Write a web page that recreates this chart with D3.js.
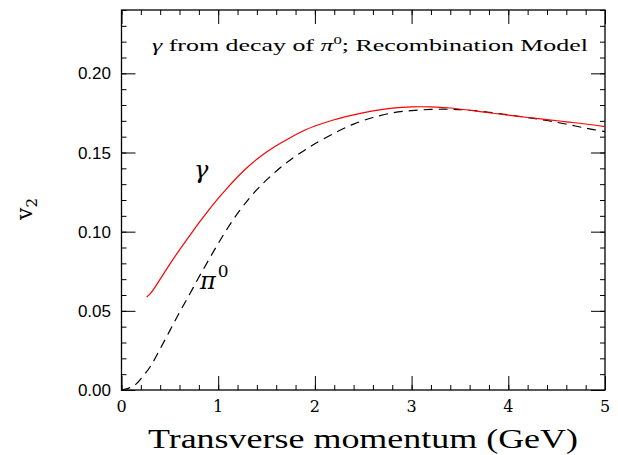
<!DOCTYPE html>
<html><head><meta charset="utf-8">
<script src="https://cdn.jsdelivr.net/npm/d3@7"></script>
<style>body{margin:0;background:#fff;} svg{display:block;}</style>
</head><body>
<svg id="c" width="618" height="455"></svg>
<script>
// Data
const ptGamma = [0.26, 0.30, 0.40, 0.50, 0.60, 0.70, 0.80, 0.90, 1.0, 1.1, 1.2, 1.3, 1.4, 1.5, 1.6, 1.7, 1.8, 1.9, 2.0, 2.2, 2.4, 2.6, 2.8, 3.0, 3.2, 3.4, 3.6, 3.8, 4.0, 4.2, 4.4, 4.6, 4.8, 5.0];
const v2Gamma = [0.0588, 0.061, 0.070, 0.0795, 0.0885, 0.097, 0.1055, 0.1135, 0.121, 0.128, 0.1345, 0.1405, 0.1457, 0.1503, 0.1543, 0.1578, 0.1612, 0.1642, 0.1667, 0.1707, 0.1738, 0.1763, 0.1780, 0.1788, 0.1788, 0.1781, 0.1767, 0.1751, 0.1736, 0.1721, 0.1708, 0.1694, 0.1680, 0.1663];
const ptPi = [0.0, 0.07, 0.14, 0.22, 0.30, 0.40, 0.50, 0.60, 0.70, 0.80, 0.90, 1.0, 1.1, 1.2, 1.3, 1.4, 1.5, 1.6, 1.7, 1.8, 1.9, 2.0, 2.2, 2.4, 2.6, 2.8, 3.0, 3.2, 3.4, 3.6, 3.8, 4.0, 4.2, 4.4, 4.6, 4.8, 5.0];
const v2Pi = [0.0, 0.001, 0.0032, 0.0085, 0.015, 0.026, 0.0375, 0.049, 0.060, 0.0712, 0.082, 0.0925, 0.1025, 0.1115, 0.1195, 0.1265, 0.1327, 0.1382, 0.1432, 0.1477, 0.1517, 0.1555, 0.1622, 0.1679, 0.1721, 0.1750, 0.1765, 0.1772, 0.1773, 0.1767, 0.1754, 0.1738, 0.1721, 0.1702, 0.1679, 0.1654, 0.1632];
const xTicks = [0, 1, 2, 3, 4, 5];
const yTicks = [0.00, 0.05, 0.10, 0.15, 0.20];

const svg = d3.select("#c");
const L = 121.5, R = 605, T = 10, B = 390;
const x = d3.scaleLinear().domain([0, 5]).range([L, R]);
const y = d3.scaleLinear().domain([0, 0.24]).range([B, T]);

const serif = "'DejaVu Serif', 'Liberation Serif', serif";
const thinSerif = "'Liberation Serif', 'DejaVu Serif', serif";
const sans = "'Liberation Sans', Arial, sans-serif";

// Axes with inward ticks on all four sides
const xMinor = d3.range(0, 5.0001, 0.2);
const yMinor = d3.range(0, 0.2401, 0.01);
function drawAxis(axis, tx, ty) {
  const g = svg.append("g").attr("transform", `translate(${tx},${ty})`).call(axis);
  g.select(".domain").remove();
  g.selectAll("line").attr("stroke", "#000").attr("stroke-width", 1);
  g.selectAll("text").remove();
  return g;
}
drawAxis(d3.axisBottom(x).tickValues(xMinor).tickSize(-5), 0, B);
drawAxis(d3.axisBottom(x).tickValues(xTicks).tickSize(-14), 0, B);
drawAxis(d3.axisTop(x).tickValues(xMinor).tickSize(-5), 0, T);
drawAxis(d3.axisTop(x).tickValues(xTicks).tickSize(-14), 0, T);
drawAxis(d3.axisLeft(y).tickValues(yMinor).tickSize(-5), L, 0);
drawAxis(d3.axisLeft(y).tickValues(yTicks).tickSize(-14), L, 0);
drawAxis(d3.axisRight(y).tickValues(yMinor).tickSize(-5), R, 0);
drawAxis(d3.axisRight(y).tickValues(yTicks).tickSize(-14), R, 0);

svg.append("rect").attr("x", L).attr("y", T).attr("width", R - L).attr("height", B - T)
  .attr("fill", "none").attr("stroke", "#000").attr("stroke-width", 1.3);

// Tick labels
svg.append("g").selectAll("text").data(xTicks).join("text")
  .attr("x", d => x(d)).attr("y", 412).attr("text-anchor", "middle")
  .attr("font-family", serif).attr("font-size", 16).text(d => d);
svg.append("g").selectAll("text").data(yTicks).join("text")
  .attr("x", 111).attr("y", d => y(d) + 6).attr("text-anchor", "end")
  .attr("font-family", sans).attr("font-size", 17).text(d => d.toFixed(2));

// Curves
const line = d3.line().x(d => x(d[0])).y(d => y(d[1])).curve(d3.curveCatmullRom.alpha(0.5));
const gammaData = ptGamma.map((p, i) => [p, v2Gamma[i]]);
const piData = ptPi.map((p, i) => [p, v2Pi[i]]);
svg.append("path").datum(piData).attr("d", line).attr("fill", "none")
  .attr("stroke", "#000").attr("stroke-width", 1.2).attr("stroke-dasharray", "9,6");
svg.append("path").datum(gammaData).attr("d", line).attr("fill", "none")
  .attr("stroke", "#ff0000").attr("stroke-width", 1.2);

// Annotations
const ann = svg.append("text").attr("x", 152).attr("y", 51)
  .attr("font-family", thinSerif).attr("font-size", 17).attr("textLength", 436).attr("lengthAdjust", "spacingAndGlyphs");
ann.append("tspan").attr("font-style", "italic").text("γ");
ann.append("tspan").text(" from decay of ");
ann.append("tspan").attr("font-style", "italic").text("π");
ann.append("tspan").attr("font-size", 11).attr("dy", -7).text("0");
ann.append("tspan").attr("dy", 7).text("; Recombination Model");

svg.append("text").attr("x", 194).attr("y", 178).attr("font-family", serif)
  .attr("font-style", "italic").attr("font-size", 24).text("γ");
const pi = svg.append("text").attr("x", 200).attr("y", 289).attr("font-family", serif).attr("font-size", 24);
pi.append("tspan").attr("font-style", "italic").text("π");
pi.append("tspan").attr("font-size", 17).attr("dy", -12).attr("dx", 2).text("0");

// Axis titles
svg.append("text").attr("x", 148).attr("y", 448).attr("font-family", thinSerif)
  .attr("font-size", 28).attr("textLength", 430).attr("lengthAdjust", "spacingAndGlyphs")
  .text("Transverse momentum (GeV)");
const yl = svg.append("text").attr("transform", "translate(32,220) rotate(-90)")
  .attr("font-family", serif).attr("font-size", 22);
yl.append("tspan").text("v");
yl.append("tspan").attr("font-size", 15).attr("dy", 5).text("2");
</script>
</body></html>
